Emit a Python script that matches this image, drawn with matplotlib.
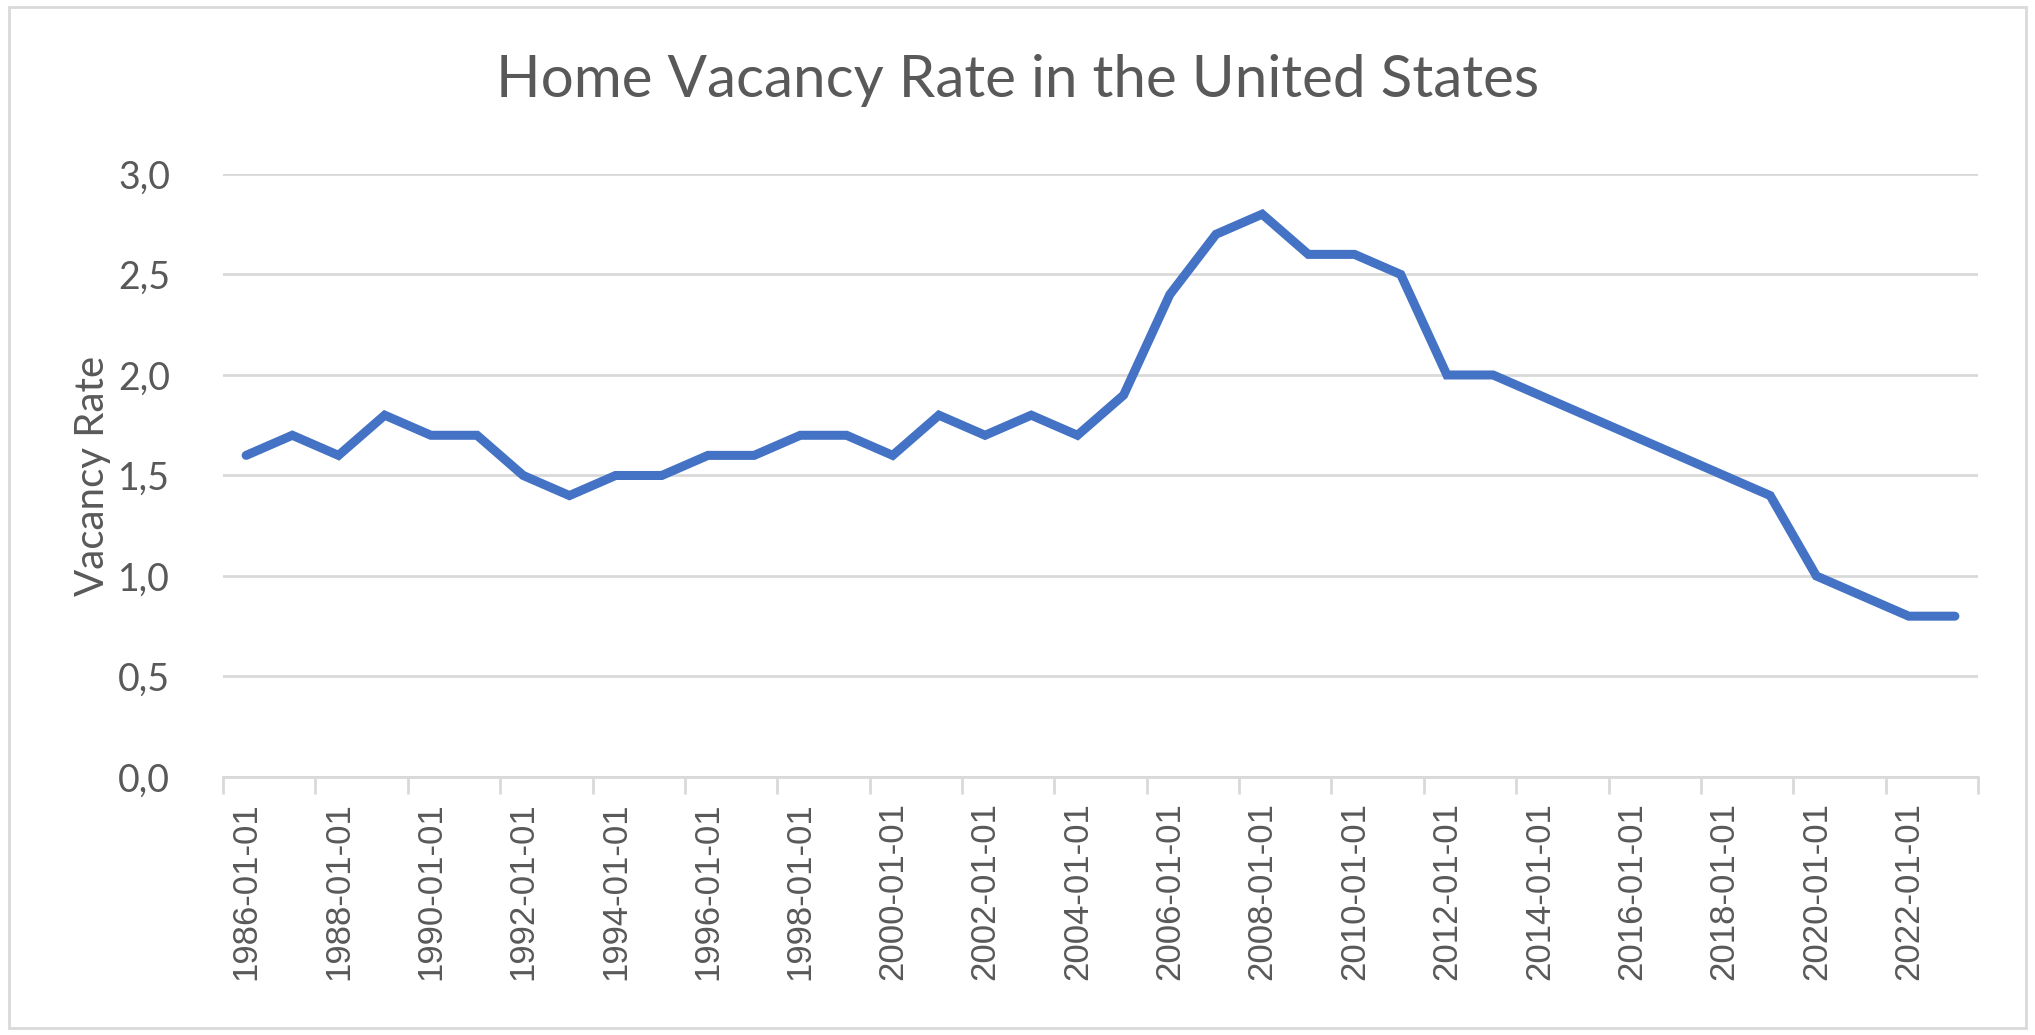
import matplotlib
matplotlib.use("Agg")
import matplotlib.pyplot as plt
import numpy as np
from matplotlib.patches import Rectangle

# annual home vacancy rate
years = list(range(1986, 2024))
rate = [1.6, 1.7, 1.6, 1.8, 1.7, 1.7, 1.5, 1.4, 1.5, 1.5,
        1.6, 1.6, 1.7, 1.7, 1.6, 1.8, 1.7, 1.8, 1.7, 1.9,
        2.4, 2.7, 2.8, 2.6, 2.6, 2.5, 2.0, 2.0, 1.9, 1.8,
        1.7, 1.6, 1.5, 1.4, 1.0, 0.9, 0.8, 0.8]
labels = [f"{y}-01-01" for y in years]
yticks = [0.0, 0.5, 1.0, 1.5, 2.0, 2.5, 3.0]

txt = "#595959"
grid = "#d9d9d9"
blue = "#4472C4"

fig = plt.figure(figsize=(20.35, 10.35), dpi=100)
ax = fig.add_axes([0.1096, 0.2493, 0.972 - 0.1096, 0.8319 - 0.2493])

x = np.arange(len(years))
ax.plot(x, rate, color=blue, lw=6.5, solid_capstyle="round", solid_joinstyle="miter", zorder=3)

ax.set_xlim(-0.5, len(years) - 0.5)
ax.set_ylim(0, 3.0)

# gridlines
ax.set_yticks(yticks)
ax.set_yticklabels([f"{v:.1f}".replace(".", ",") for v in yticks], family="Lato", fontsize=27, color=txt)
ax.yaxis.grid(True, color=grid, lw=2)
ax.tick_params(axis="y", length=0, pad=38)

# category axis: ticks every 2 categories on boundaries, labels on every 2nd category
ax.set_xticks(np.arange(-0.5, len(years), 2))
ax.set_xticklabels([])
ax.set_xticks(x[::2], minor=True)
ax.set_xticklabels(labels[::2], minor=True, rotation=90, family="Liberation Sans",
                   fontsize=25, color=txt, va="top")
ax.tick_params(axis="x", which="major", length=12, width=2, color=grid)
ax.tick_params(axis="x", which="minor", length=0, pad=18)

for s in ["top", "right", "left"]:
    ax.spines[s].set_visible(False)
ax.spines["bottom"].set_color(grid)
ax.spines["bottom"].set_linewidth(2)
ax.set_axisbelow(True)

ax.set_ylabel("Vacancy Rate", family="Lato", fontsize=29, color=txt, labelpad=5)

fig.text(0.5, 0.922, "Home Vacancy Rate in the United States", ha="center", va="center",
         family="Lato", fontsize=42, color=txt)

fig.patches.append(Rectangle((0.0045, 0.007), 0.991, 0.986, transform=fig.transFigure,
                             fill=False, edgecolor=grid, lw=2))

fig.savefig("out.png", dpi=100)
